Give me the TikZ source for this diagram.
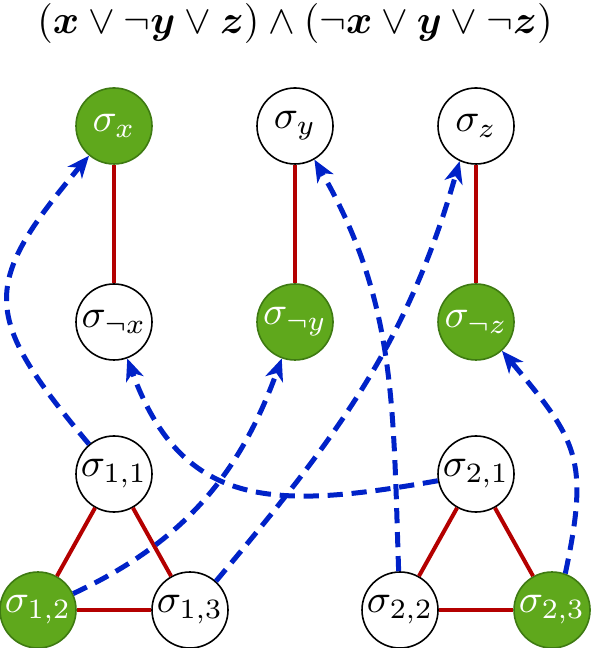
\documentclass[tikz,border=0pt]{standalone}
\usepackage{amsmath}
\usetikzlibrary{arrows.meta}
\definecolor{ngreen}{RGB}{95,168,28}
\definecolor{ngreenb}{RGB}{62,122,18}
\definecolor{nred}{RGB}{180,0,0}
\definecolor{nblue}{RGB}{0,34,200}
\begin{document}
\begin{tikzpicture}[x=0.25pt,y=0.25pt,
  base/.style={circle, minimum size=19pt, inner sep=0pt, line width=0.4pt},
  wn/.style={base, draw=black, fill=white},
  gn/.style={base, draw=ngreenb, fill=ngreen, text=white},
  rl/.style={draw=nred, line width=1pt},
  bl/.style={draw=nblue, line width=1.25pt, dash pattern=on 3.8pt off 2.2pt,
    -{Stealth[length=5.5pt,width=4.6pt,inset=1.6pt]}}]
\useasboundingbox (0,0) rectangle (591,-648);
\node (title) at (295,-24) {$(\boldsymbol{x} \vee \neg\boldsymbol{y} \vee \boldsymbol{z}) \wedge (\neg\boldsymbol{x} \vee \boldsymbol{y} \vee \neg\boldsymbol{z})$};
\node[gn] (sx)  at (114,-126) {$\sigma_{x}$};
\node[wn] (sy)  at (295,-126) {$\sigma_{y}$};
\node[wn] (sz)  at (476,-126) {$\sigma_{z}$};
\node[wn] (snx) at (114,-322) {$\sigma_{\neg x}$};
\node[gn] (sny) at (295,-322) {$\sigma_{\neg y}$};
\node[gn] (snz) at (476,-322) {$\sigma_{\neg z}$};
\node[wn] (s11) at (114,-474) {$\sigma_{1,1}$};
\node[gn] (s12) at (38,-610) {$\sigma_{1,2}$};
\node[wn] (s13) at (190,-610) {$\sigma_{1,3}$};
\node[wn] (s21) at (476,-474) {$\sigma_{2,1}$};
\node[wn] (s22) at (400,-610) {$\sigma_{2,2}$};
\node[gn] (s23) at (552,-610) {$\sigma_{2,3}$};
\draw[rl] (sx) -- (snx);
\draw[rl] (sy) -- (sny);
\draw[rl] (sz) -- (snz);
\draw[rl] (s11) -- (s12);
\draw[rl] (s11) -- (s13);
\draw[rl] (s12) -- (s13);
\draw[rl] (s21) -- (s22);
\draw[rl] (s21) -- (s23);
\draw[rl] (s22) -- (s23);
\draw[bl] (s11) to[out=130,in=230,looseness=1.5] (sx);
\draw[bl] (s21) to[out=190,in=-70,looseness=1.25] (snx);
\draw[bl] (s12) to[out=25,in=-110] (sny);
\draw[bl] (s13.48) to[out=50,in=-106] (sz.-115);
\draw[bl] (s22) to[out=92,in=-60] (sy);
\draw[bl] (s23.70) to[out=78,in=-50,looseness=1.3] (snz.-48);
\end{tikzpicture}
\end{document}
